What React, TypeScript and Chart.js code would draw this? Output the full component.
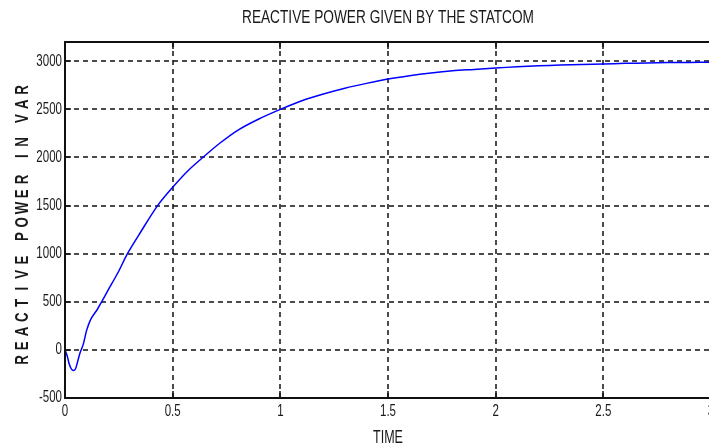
import React, { useEffect, useRef } from "react";
import { Chart, registerables } from "chart.js";

Chart.register(...registerables);

const titleText = "REACTIVE POWER GIVEN BY THE STATCOM";
const xTitle = "TIME";
const yTitleWords = ["REACTIVE", "POWER", "IN", "VAR"];

const xTicks = [0, 0.5, 1, 1.5, 2, 2.5, 3];
const xTickLabels = ["0", "0.5", "1", "1.5", "2", "2.5", "3"];
const yTicks = [-500, 0, 500, 1000, 1500, 2000, 2500, 3000];
const yTickLabels = ["-500", "0", "500", "1000", "1500", "2000", "2500", "3000"];

const times = [
  0, 0.01, 0.02, 0.03, 0.04, 0.05, 0.06, 0.07, 0.085, 0.1, 0.12, 0.15, 0.17, 0.2,
  0.25, 0.29, 0.35, 0.43, 0.5, 0.57, 0.64, 0.72, 0.8, 0.9, 1.0, 1.1, 1.2, 1.3, 1.4,
  1.5, 1.6, 1.7, 1.8, 1.9, 2.0, 2.1, 2.2, 2.3, 2.4, 2.5, 2.6, 2.7, 2.8, 2.9, 3.0,
];
const power = [
  0, -60, -150, -200, -215, -190, -110, -30, 60, 200, 320, 420, 500, 620,
  820, 1000, 1220, 1500, 1690, 1860, 2000, 2150, 2280, 2400, 2500, 2590, 2660, 2720, 2770,
  2815, 2850, 2878, 2900, 2915, 2930, 2942, 2952, 2960, 2966, 2972, 2978, 2982, 2986, 2988, 2990,
];

const FONT = "'Liberation Sans', Arial, sans-serif";
const TEXT = "#1a1a1a";

function drawSquished(
  ctx: CanvasRenderingContext2D,
  text: string,
  x: number,
  y: number,
  size: number,
  sx: number,
  align: CanvasTextAlign,
  targetWidth?: number,
  weight: string = "normal"
) {
  ctx.save();
  ctx.font = `${weight} ${size}px ${FONT}`;
  let s = sx;
  if (targetWidth) s = targetWidth / ctx.measureText(text).width;
  ctx.translate(x, y);
  ctx.scale(s, 1);
  ctx.textAlign = align;
  ctx.textBaseline = "middle";
  ctx.fillStyle = TEXT;
  ctx.fillText(text, 0, 0);
  ctx.restore();
}

const framePlugin = {
  id: "framePlugin",
  beforeDatasetsDraw(chart: any) {
    const { ctx, chartArea } = chart;
    const xs = chart.scales.x;
    const ys = chart.scales.y;
    ctx.save();
    ctx.strokeStyle = "#111";
    ctx.lineWidth = 1.5;
    ctx.setLineDash([5, 4]);
    xTicks.forEach((v) => {
      const px = Math.round(xs.getPixelForValue(v));
      if (px <= chartArea.left + 1 || px >= chartArea.right - 1) return;
      ctx.beginPath();
      ctx.moveTo(px, chartArea.top);
      ctx.lineTo(px, chartArea.bottom);
      ctx.stroke();
    });
    yTicks.forEach((v) => {
      const py = Math.round(ys.getPixelForValue(v));
      if (py <= chartArea.top + 1 || py >= chartArea.bottom - 1) return;
      ctx.beginPath();
      ctx.moveTo(chartArea.left, py);
      ctx.lineTo(chartArea.right, py);
      ctx.stroke();
    });
    ctx.restore();
  },
  afterDatasetsDraw(chart: any) {
    const { ctx, chartArea } = chart;
    const xs = chart.scales.x;
    const ys = chart.scales.y;
    ctx.save();
    ctx.strokeStyle = "#111";
    ctx.lineWidth = 2;
    ctx.setLineDash([]);
    ctx.strokeRect(chartArea.left, chartArea.top, chartArea.right - chartArea.left, chartArea.bottom - chartArea.top);
    ctx.lineWidth = 1.5;
    xTicks.forEach((v) => {
      const px = Math.round(xs.getPixelForValue(v));
      ctx.beginPath();
      ctx.moveTo(px, chartArea.top);
      ctx.lineTo(px, chartArea.top + 7);
      ctx.moveTo(px, chartArea.bottom);
      ctx.lineTo(px, chartArea.bottom - 7);
      ctx.stroke();
    });
    yTicks.forEach((v) => {
      const py = Math.round(ys.getPixelForValue(v));
      ctx.beginPath();
      ctx.moveTo(chartArea.left, py);
      ctx.lineTo(chartArea.left + 6, py);
      ctx.stroke();
    });
    ctx.restore();

    xTicks.forEach((v, i) => {
      const px = xs.getPixelForValue(v);
      drawSquished(ctx, xTickLabels[i], px, chartArea.bottom + 14, 16, 0.72, "center");
    });
    yTicks.forEach((v, i) => {
      const py = ys.getPixelForValue(v);
      drawSquished(ctx, yTickLabels[i], chartArea.left - 3, py, 16, 0.72, "right");
    });

    const cx = (chartArea.left + chartArea.right) / 2;
    drawSquished(ctx, titleText, cx, 18, 19, 1, "center", 292);
    drawSquished(ctx, xTitle, cx, 438, 19, 1, "center", 30);

    const pitch = 14.3;
    const gap = 23.3;
    let total = 0;
    yTitleWords.forEach((w, wi) => {
      total += (w.length - 1) * pitch;
      if (wi < yTitleWords.length - 1) total += gap;
    });
    const cy = (chartArea.top + chartArea.bottom) / 2 + 5;
    ctx.save();
    ctx.translate(23, cy);
    ctx.rotate(-Math.PI / 2);
    let pos = -total / 2;
    yTitleWords.forEach((w, wi) => {
      for (let k = 0; k < w.length; k++) {
        drawSquished(ctx, w[k], pos, 0, 19, 0.7, "center", undefined, "bold");
        if (k < w.length - 1) pos += pitch;
      }
      if (wi < yTitleWords.length - 1) pos += gap;
    });
    ctx.restore();
  },
};

export default function App() {
  const ref = useRef<HTMLCanvasElement | null>(null);
  useEffect(() => {
    if (!ref.current) return;
    const chart = new Chart(ref.current, {
      type: "line",
      data: {
        datasets: [
          {
            data: times.map((t, i) => ({ x: t, y: power[i] })),
            borderColor: "#0000ff",
            borderWidth: 1.5,
            pointRadius: 0,
            tension: 0.3,
            fill: false,
          },
        ],
      },
      options: {
        animation: false,
        responsive: false,
        layout: { padding: { left: 0, right: 29, top: 42, bottom: 0 } },
        plugins: {
          legend: { display: false },
          tooltip: { enabled: false },
          title: { display: false },
        },
        scales: {
          x: {
            type: "linear",
            min: 0,
            max: 3,
            grid: { display: false, drawTicks: false },
            border: { display: false },
            ticks: { display: false },
            afterBuildTicks: (s: any) => {
              s.ticks = xTicks.map((v) => ({ value: v }));
            },
            afterFit: (s: any) => {
              s.height = 49;
              s.paddingLeft = 0;
              s.paddingRight = 0;
            },
          },
          y: {
            type: "linear",
            min: -500,
            max: 3200,
            grid: { display: false, drawTicks: false },
            border: { display: false },
            ticks: { display: false },
            afterBuildTicks: (s: any) => {
              s.ticks = yTicks.map((v) => ({ value: v }));
            },
            afterFit: (s: any) => {
              s.width = 65;
              s.paddingTop = 0;
              s.paddingBottom = 0;
            },
          },
        },
      },
      plugins: [framePlugin],
    });
    return () => chart.destroy();
  }, []);
  return (
    <div
      style={{
        position: "fixed",
        left: 0,
        top: 0,
        width: 709,
        height: 447,
        overflow: "hidden",
        background: "#fff",
      }}
    >
      <canvas ref={ref} width={740} height={447} style={{ width: 740, height: 447, display: "block" }} />
    </div>
  );
}
